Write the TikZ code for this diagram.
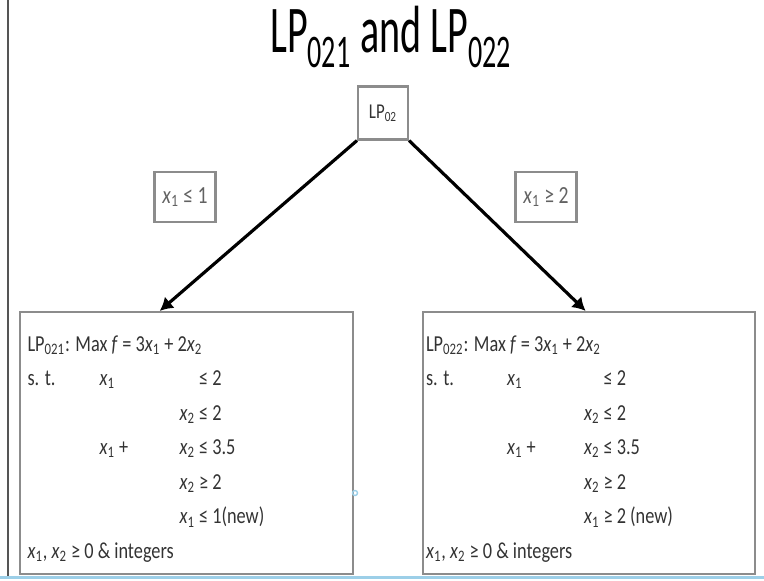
\documentclass[tikz,border=0pt]{standalone}
\usepackage{fontspec}
\setmainfont{Carlito}[FakeStretch=0.8]
\newfontfamily\titlefont{Carlito}[FakeStretch=0.6]
\usepackage{tikz}
\usetikzlibrary{arrows.meta,positioning,calc}
\definecolor{boxgray}{HTML}{8C8C8C}
\definecolor{txtgray}{HTML}{333333}
\definecolor{edgegray}{HTML}{555555}
\definecolor{screenblue}{HTML}{9CCFE8}
\newcommand\xv[1]{\textit{x}\textsubscript{#1}}
\tikzset{
  lpbox/.style={rectangle, draw=#1, line width=1.2pt, minimum width=6.65cm, minimum height=5.24cm},
  condbox/.style={rectangle, draw=#1, line width=1.2pt, minimum width=1.22cm, minimum height=1cm,
                  text=#1!70!black, font=\fontsize{14}{16}\selectfont},
  lines/.style={anchor=north west, inner sep=0pt, text=txtgray, font=\fontsize{13}{16}\selectfont},
  arr/.style={-{Latex[length=2.6mm,width=3mm]}, line width=1.8pt, draw=black},
}

\begin{document}
\begin{tikzpicture}
\useasboundingbox (0,0) rectangle (15.28,-11.6);
% screen edges
\draw[line width=1.5pt, draw=edgegray] (0.16,0) -- (0.16,-11.56);
\draw[line width=2pt, draw=screenblue] (0,-11.55) -- (15.28,-11.55);

\node[anchor=base, font=\titlefont\fontsize{38}{40}\selectfont] (title) at (7.82,-1.04) {LP\textsubscript{021} and LP\textsubscript{022}};

\node[rectangle, draw=boxgray, line width=1.2pt, minimum width=1cm, minimum height=1.06cm, font=\fontsize{12}{13}\selectfont, text=txtgray] (lp02) at (7.66,-2.26) {LP\textsubscript{02}};

\node[condbox=boxgray] (c1) at (3.7,-3.94) {\xv1 ≤ 1};
\node[condbox=boxgray] (c2) at (10.92,-3.94) {\xv1 ≥ 2};

\node[lpbox=boxgray] (lp021) at (3.73,-8.86) {};
\node[lpbox=boxgray] (lp022) at (11.78,-8.86) {};

\draw[arr] (lp02.south west) -- ($(lp021.north west)!0.42!(lp021.north east)$);
\draw[arr] (lp02.south east) -- ($(lp022.north west)!0.49!(lp022.north east)$);

% constraints
\node[lines] (t021) at ($(lp021.north west)+(0.16,-0.31)$) {\renewcommand\arraystretch{1.23}%
\begin{tabular}{@{}p{1.44cm}@{}p{1.6cm}@{}l@{}}
\multicolumn{3}{@{}l@{}}{LP\textsubscript{021}: Max \textit{f} = 3\xv1 + 2\xv2}\\
s. t. & \xv1 & \phantom{\xv2 }≤ 2\\
 & & \xv2 ≤ 2\\
 & \xv1 + & \xv2 ≤ 3.5\\
 & & \xv2 ≥ 2\\
 & & \xv1 ≤ 1(new)\\
\multicolumn{3}{@{}l@{}}{\xv1, \xv2 ≥ 0 \& integers}
\end{tabular}};
\node[lines] (t022) at ($(lp022.north west)+(0.08,-0.31)$) {\renewcommand\arraystretch{1.23}%
\begin{tabular}{@{}p{1.62cm}@{}p{1.54cm}@{}l@{}}
\multicolumn{3}{@{}l@{}}{LP\textsubscript{022}: Max \textit{f} = 3\xv1 + 2\xv2}\\
s. t. & \xv1 & \phantom{\xv2 }≤ 2\\
 & & \xv2 ≤ 2\\
 & \xv1 + & \xv2 ≤ 3.5\\
 & & \xv2 ≥ 2\\
 & & \xv1 ≥ 2 (new)\\
\multicolumn{3}{@{}l@{}}{\xv1, \xv2 ≥ 0 \& integers}
\end{tabular}};

\draw[screenblue, line width=0.8pt] (7.1,-9.86) circle (0.05);
\end{tikzpicture}
\end{document}
